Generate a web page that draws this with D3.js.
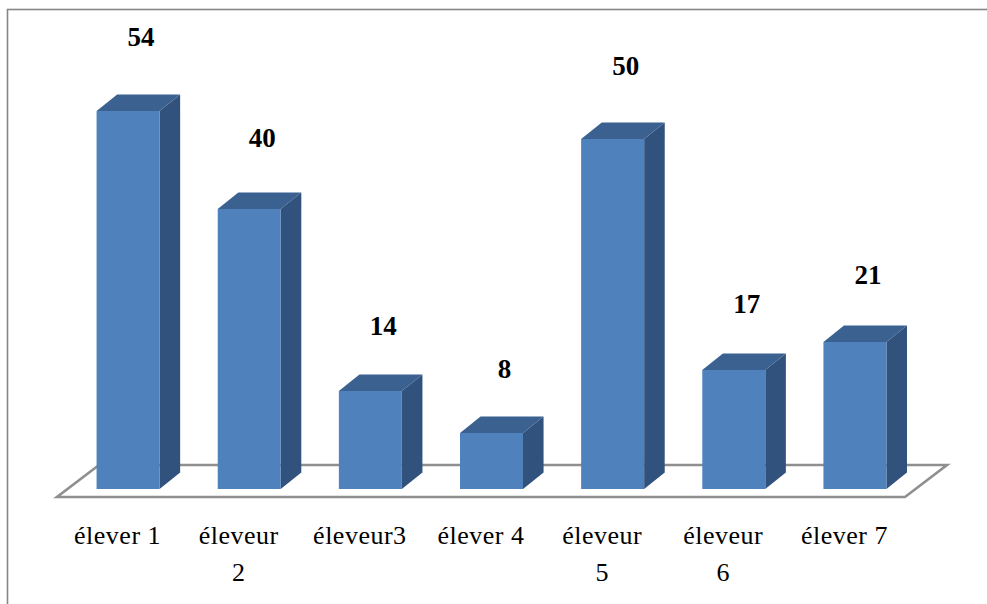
<!DOCTYPE html>
<html>
<head>
<meta charset="utf-8">
<script src="https://cdn.jsdelivr.net/npm/d3@7"></script>
<style>
  html, body { margin: 0; padding: 0; background: #ffffff; }
  svg { display: block; }
</style>
</head>
<body>
<svg id="chart" width="987" height="604"></svg>
<script>
// Scores per élève
const categories = ["élever 1", "éleveur 2", "éleveur3", "élever 4", "éleveur 5", "éleveur 6", "élever 7"];
const values = [54, 40, 14, 8, 50, 17, 21];

const W = 987, H = 604;
const svg = d3.select("#chart");

// Floor geometry (front edge + receding depth vector)
const floorFront = { x0: 57, x1: 905, y: 497 };
const depth = { dx: 42, dy: -32 };
// Bars sit a quarter of the way into the floor and are half as deep as it
const barShift = { dx: depth.dx * 0.25, dy: depth.dy * 0.25 };
const barDepth = { dx: depth.dx * 0.49, dy: depth.dy * 0.515 };

const x = d3.scaleBand()
  .domain(categories)
  .range([floorFront.x0, floorFront.x1])
  .paddingInner(0.48)
  .paddingOuter(0.24);

const baseY = floorFront.y + barShift.dy;
const h = d3.scaleLinear().domain([0, 60]).range([0, 420]);
// Label baselines follow the perspective of the bar tops
const labelY = d3.scaleLinear().domain([0, 60]).range([436, 436 - 7.23 * 60]);

const serif = "'Liberation Serif', 'Times New Roman', serif";

// Chart frame
svg.append("rect")
  .attr("x", 7.5).attr("y", 9.5)
  .attr("width", W + 20).attr("height", H + 20)
  .attr("fill", "#ffffff")
  .attr("stroke", "#868686")
  .attr("stroke-width", 1.6);

// Floor
svg.append("path")
  .attr("d", d3.line()([
    [floorFront.x0, floorFront.y],
    [floorFront.x1, floorFront.y],
    [floorFront.x1 + depth.dx, floorFront.y + depth.dy],
    [floorFront.x0 + depth.dx, floorFront.y + depth.dy]
  ]) + "Z")
  .attr("fill", "#ffffff")
  .attr("stroke", "#8f8f8f")
  .attr("stroke-width", 2.6)
  .attr("stroke-linejoin", "miter");

const data = categories.map((c, i) => ({ c, v: values[i] }));
const bw = x.bandwidth();

const bars = svg.append("g").selectAll("g.bar")
  .data(data).join("g").attr("class", "bar");

bars.each(function (d) {
  const g = d3.select(this);
  const x0 = x(d.c) + barShift.dx;
  const x1 = x0 + bw;
  const yb = baseY;
  const yt = baseY - h(d.v);
  const dx = barDepth.dx, dy = barDepth.dy;
  // side face
  g.append("path")
    .attr("d", d3.line()([[x1, yb], [x1 + dx, yb + dy], [x1 + dx, yt + dy], [x1, yt]]) + "Z")
    .attr("fill", "#31527C");
  // top face
  g.append("path")
    .attr("d", d3.line()([[x0, yt], [x1, yt], [x1 + dx, yt + dy], [x0 + dx, yt + dy]]) + "Z")
    .attr("fill", "#3B6191");
  // front face
  g.append("rect")
    .attr("x", x0).attr("y", yt)
    .attr("width", bw).attr("height", yb - yt)
    .attr("fill", "#4F81BD");
});

// Value labels
svg.append("g").selectAll("text")
  .data(data).join("text")
  .attr("x", d => x(d.c) + barShift.dx + bw / 2 + 13)
  .attr("y", d => labelY(d.v))
  .attr("text-anchor", "middle")
  .attr("font-family", serif)
  .attr("font-weight", "bold")
  .attr("font-size", 27)
  .attr("fill", "#000000")
  .text(d => d.v);

// Category labels (wrapped when wider than the slot)
const catG = svg.append("g");
data.forEach(d => {
  const cx = x(d.c) + bw / 2;
  const t = catG.append("text")
    .attr("x", cx).attr("y", 544)
    .attr("text-anchor", "middle")
    .attr("font-family", serif)
    .attr("font-size", 26)
    .attr("letter-spacing", 0.5)
    .attr("fill", "#000000")
    .text(d.c);
  const sp = d.c.lastIndexOf(" ");
  if (t.node().getComputedTextLength() > 97 && sp > 0) {
    t.text(null);
    t.append("tspan").attr("x", cx).attr("dy", 0).text(d.c.slice(0, sp));
    t.append("tspan").attr("x", cx).attr("dy", 37).text(d.c.slice(sp + 1));
  }
});
</script>
</body>
</html>
